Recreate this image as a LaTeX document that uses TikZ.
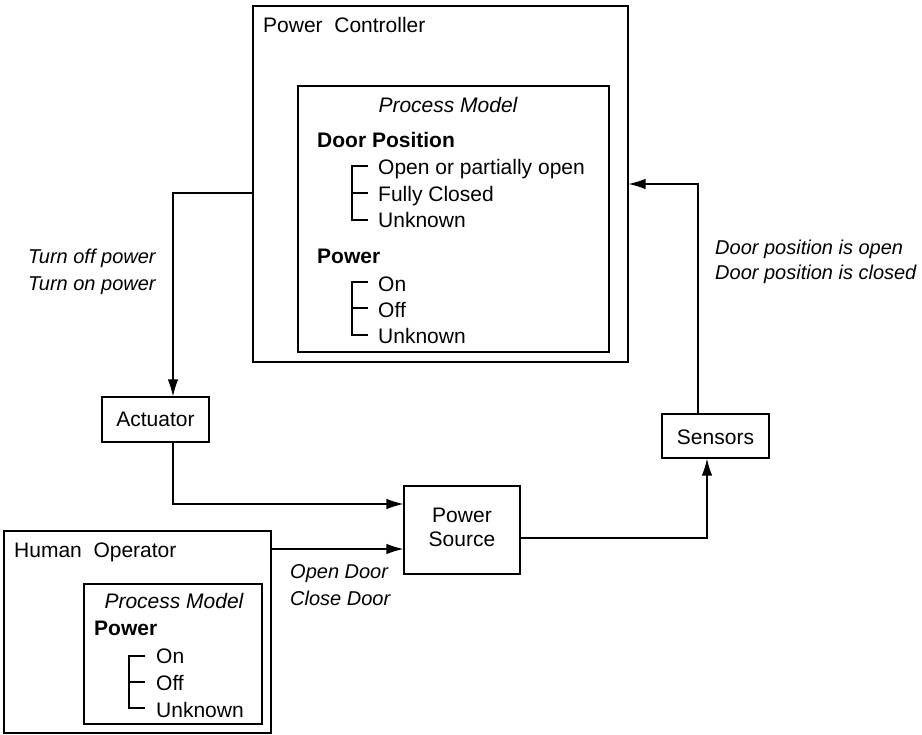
\documentclass[tikz,border=0pt]{standalone}
\usepackage{fontspec}
\setmainfont{Liberation Sans}
\usetikzlibrary{arrows.meta,positioning}
\begin{document}
\begin{tikzpicture}[x=1pt,y=-1pt,
  every node/.style={font=\fontsize{21}{25}\selectfont},
  box/.style={draw, line width=1.2pt, inner sep=0pt},
  txt/.style={anchor=base west, inner sep=0pt},
  ctxt/.style={anchor=base, inner sep=0pt},
  itl/.style={txt, font=\fontsize{21}{25}\selectfont\itshape},
  lbl/.style={txt, font=\fontsize{20}{24}\selectfont\itshape},
  hdr/.style={txt, font=\fontsize{21}{25}\selectfont\bfseries},
  arr/.style={line width=1.2pt, -{Latex[length=17pt,width=10.5pt]}},
  tree/.style={line width=1.2pt}]
\useasboundingbox (0,0) rectangle (922,735);

% boxes
\node[box, minimum width=375pt, minimum height=356pt] (pc) at (440.5,184) {};
\node[box, minimum width=311pt, minimum height=266pt] (pcm) at (453.5,219) {};
\node[box, minimum width=107pt, minimum height=45pt] (act) at (155.5,419.5) {};
\node[box, minimum width=116pt, minimum height=88pt] (ps) at (462,530) {};
\node[box, minimum width=107pt, minimum height=44pt] (sen) at (715.5,436) {};
\node[box, minimum width=267pt, minimum height=202pt] (ho) at (137.5,632) {};
\node[box, minimum width=178pt, minimum height=140pt] (hom) at (173,654) {};

% box texts
\node[txt] (pct) at (263,33) {Power\ \ Controller};
\node[itl, anchor=base] (pcmt) at (448,113) {Process Model};
\node[hdr] (dp) at (317,148) {Door Position};
\node[txt] (dp1) at (378,175) {Open or partially open};
\node[txt] (dp2) at (378,202) {Fully Closed};
\node[txt] (dp3) at (378,228) {Unknown};
\node[hdr] (pw) at (317,264) {Power};
\node[txt] (pw1) at (378,292) {On};
\node[txt] (pw2) at (378,318) {Off};
\node[txt] (pw3) at (378,344) {Unknown};

\node[ctxt] (actt) at (155.5,427) {Actuator};
\node[ctxt] (pst1) at (462,522) {Power};
\node[ctxt] (pst2) at (462,547) {Source};
\node[ctxt] (sent) at (715.5,445) {Sensors};

\node[txt] (hot) at (14,557) {Human\ \ Operator};
\node[itl, anchor=base] (homt) at (174,608) {Process Model};
\node[hdr] (hpw) at (94,635) {Power};
\node[txt] (hpw1) at (156,663) {On};
\node[txt] (hpw2) at (156,690) {Off};
\node[txt] (hpw3) at (156,717) {Unknown};

% trees
\draw[tree] (368,166) -- (352,166) -- (352,220) -- (368,220);
\draw[tree] (352,193) -- (368,193);
\draw[tree] (368,282) -- (352,282) -- (352,335) -- (368,335);
\draw[tree] (352,308) -- (368,308);
\draw[tree] (145,656) -- (129,656) -- (129,708) -- (145,708);
\draw[tree] (129,682) -- (145,682);

% connector labels
\node[lbl] (l1) at (28,264) {Turn off power};
\node[lbl] (l2) at (28,291) {Turn on power};
\node[lbl] (l3) at (715,255) {Door position is open};
\node[lbl] (l4) at (715,280) {Door position is closed};
\node[lbl] (l5) at (290,578) {Open Door};
\node[lbl] (l6) at (290,605) {Close Door};

% helper coordinates
\coordinate (ya) at (0,193);
\coordinate (xa) at (173,0);
\coordinate (yb) at (0,504);
\coordinate (yc) at (0,549);
\coordinate (yd) at (0,538);
\coordinate (xd) at (707,0);
\coordinate (ye) at (0,184);
\coordinate (xe) at (698,0);

% connectors
\draw[arr] (pc.west |- ya) -| (act.north -| xa);
\draw[arr] (act.south -| xa) |- (ps.west |- yb);
\draw[arr] (ho.east |- yc) -- (ps.west |- yc);
\draw[arr] (ps.east |- yd) -| (sen.south -| xd);
\draw[arr] (sen.north -| xe) |- (pc.east |- ye);
\end{tikzpicture}
\end{document}
